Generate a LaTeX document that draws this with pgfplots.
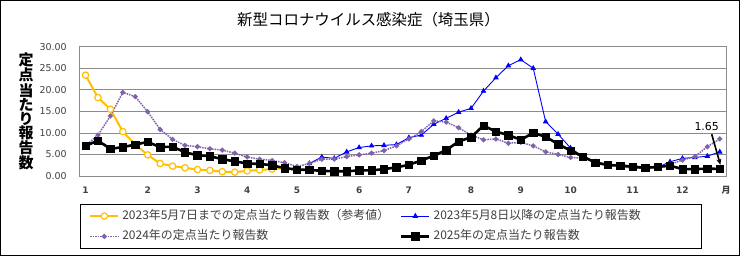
\documentclass[border=0pt]{standalone}
\usepackage{fontspec}
\setmainfont{Noto Sans CJK JP}
\newfontfamily\numfont{DejaVu Sans}
\usepackage{pgfplots}
\pgfplotsset{compat=1.18}
\usetikzlibrary{arrows.meta}

\definecolor{cyel}{HTML}{FFC000}
\definecolor{cblu}{HTML}{0000FF}
\definecolor{cpur}{HTML}{7F62A9}
\definecolor{cgrid}{HTML}{8C8C8C}
\definecolor{ctxt}{HTML}{404040}

\begin{document}
\begin{tikzpicture}
\useasboundingbox (-79.3bp,-80bp) rectangle (660.7bp,176bp);
\begin{axis}[
    scale only axis,
    width=646.7bp, height=129.3bp,
    xmin=-0.5, xmax=51.5, ymin=0, ymax=30,
    xtick={0,5,9,13,17,22,26,31,35,39,44,48},
    xticklabels={1,2,3,4,5,6,7,8,9,10,11,12},
    ytick={0,5,...,30},
    ymajorgrids,
    grid style={cgrid, line width=0.8bp},
    axis line style={cgrid, line width=0.8bp},
    major tick length=0pt,
    yticklabel style={font=\numfont\fontsize{9.5}{10}\selectfont, text=ctxt, anchor=east, inner sep=0pt, xshift=-12.5bp,
        /pgf/number format/fixed, /pgf/number format/fixed zerofill, /pgf/number format/precision=2,
        /pgf/number format/assume math mode=true},
    xticklabel style={font=\numfont\bfseries\fontsize{9}{10}\selectfont, text=ctxt, anchor=base, inner sep=0pt, yshift=-17bp,
        /pgf/number format/assume math mode=true},
    legend columns=2,
    legend cell align=left,
    legend image code/.code={\draw[mark repeat=2,mark phase=2] plot coordinates {(0bp,0bp) (14bp,0bp) (28bp,0bp)};},
    legend style={at={(0.001,-0.2166)}, anchor=north west, draw=black, line width=0.8bp,
        inner xsep=9bp, inner ysep=6.2bp, row sep=9.3bp,
        font=\fontsize{12}{12}\selectfont, text=ctxt,
        nodes={inner xsep=3bp, inner ysep=0bp, text height=8.5bp, text depth=2.5bp},
        /tikz/every even column/.append style={column sep=17.7bp},
        /tikz/column 2/.append style={nodes={text width=257bp}},
        /tikz/column 4/.append style={nodes={text width=255.3bp}}},
]
% 2023 through May 7 (reference)
\addplot[cyel, line width=2bp, mark=*, mark size=3.2bp, mark options={fill=white, line width=1.2bp}] coordinates {
(0,23.4) (1,18.2) (2,15.5) (3,10.3) (4,7.3) (5,4.9) (6,2.9) (7,2.3) (8,1.9) (9,1.5)
(10,1.3) (11,1.0) (12,0.9) (13,1.2) (14,1.4) (15,1.6) (16,1.8) (17,1.7)
};
\addlegendentry{2023年5月7日までの定点当たり報告数（参考値）}
% 2023 from May 8
\addplot[cblu, line width=0.9bp, mark=triangle*, mark size=2.4bp] coordinates {
(18,2.9) (19,4.4) (20,4.1) (21,5.6) (22,6.6) (23,7.0) (24,7.1) (25,7.3) (26,8.9) (27,9.5)
(28,12.0) (29,13.4) (30,14.8) (31,15.7) (32,19.7) (33,22.8) (34,25.6) (35,27.0) (36,25.0) (37,12.6)
(38,9.7) (39,6.5) (40,4.5) (41,3.3) (42,2.7) (43,2.4) (44,1.8) (45,1.8) (46,2.0) (47,3.3)
(48,4.1) (49,4.3) (50,4.6) (51,5.6)
};
\addlegendentry{2023年5月8日以降の定点当たり報告数}
% 2024
\addplot[cpur, line width=1.5bp, densely dotted, mark=*, mark size=1.7bp, mark options={solid}] coordinates {
(0,7.0) (1,9.5) (2,13.9) (3,19.4) (4,18.4) (5,14.9) (6,10.8) (7,8.5) (8,7.1) (9,6.8)
(10,6.3) (11,6.0) (12,5.3) (13,4.4) (14,3.9) (15,3.6) (16,3.1) (17,2.2) (18,2.9) (19,3.9)
(20,3.9) (21,4.5) (22,4.9) (23,5.3) (24,5.9) (25,7.0) (26,8.6) (27,10.3) (28,12.8) (29,12.5)
(30,11.2) (31,9.5) (32,8.4) (33,8.6) (34,7.6) (35,7.8) (36,7.0) (37,5.6) (38,5.0) (39,4.3)
(40,4.1) (41,3.3) (42,2.55) (43,2.2) (44,1.8) (45,1.8) (46,2.1) (47,2.7) (48,3.7) (49,4.5)
(50,6.8) (51,8.6)
};
\addlegendentry{2024年の定点当たり報告数}
% 2025
\addplot[black, line width=2.6bp, mark=square*, mark size=3.7bp, mark options={solid, line width=0.5bp}] coordinates {
(0,7.0) (1,8.2) (2,6.3) (3,6.7) (4,7.3) (5,7.9) (6,6.7) (7,6.8) (8,5.5) (9,4.8)
(10,4.6) (11,3.9) (12,3.4) (13,2.9) (14,2.8) (15,2.5) (16,1.8) (17,1.5) (18,1.4) (19,1.2)
(20,1.1) (21,1.1) (22,1.3) (23,1.3) (24,1.6) (25,2.0) (26,2.6) (27,3.6) (28,4.7) (29,6.0)
(30,8.0) (31,9.0) (32,11.7) (33,10.3) (34,9.5) (35,8.4) (36,10.0) (37,9.1) (38,7.4) (39,5.9)
(40,4.5) (41,3.1) (42,2.55) (43,2.4) (44,2.2) (45,1.9) (46,2.1) (47,2.4) (48,1.6) (49,1.6)
(50,1.7) (51,1.65)
};
\addlegendentry{2025年の定点当たり報告数}
\node[font=\numfont\fontsize{11}{12}\selectfont, inner sep=0pt] at (axis cs:49.95,11.5) {1.65};
\draw[-{Stealth[length=6bp,width=5bp]}, line width=1.6bp] (axis cs:50.35,9.7) -- (axis cs:51.05,2.6);
\end{axis}
\draw[black, line width=1bp] (-78.8bp,-79.5bp) rectangle (660.2bp,175.5bp);
\node[font=\fontsize{15.5}{16}\selectfont, inner sep=0pt] at (289.2bp,156bp) {新型コロナウイルス感染症（埼玉県）};
\node[font=\bfseries\fontsize{15}{14.1}\selectfont, align=center, inner sep=0pt] at (-53.3bp,64.5bp) {定\\点\\当\\た\\り\\報\\告\\数};
\node[font=\bfseries\fontsize{9}{10}\selectfont, anchor=base, inner sep=0pt, text=ctxt] at (646.7bp,-17bp) {月};
\end{tikzpicture}
\end{document}
